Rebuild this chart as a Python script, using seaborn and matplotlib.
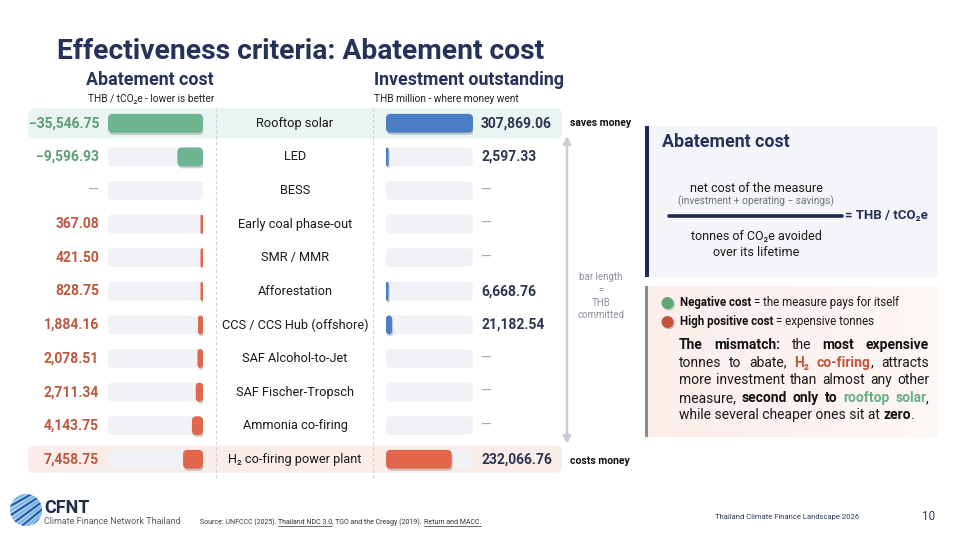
import numpy as np
import pandas as pd
import matplotlib
matplotlib.use("Agg")
import matplotlib.pyplot as plt
import seaborn as sns
from matplotlib.patches import FancyBboxPatch, Circle, Rectangle
from matplotlib.colors import LinearSegmentedColormap
import matplotlib.patheffects as pe

# ---------------- data ----------------
measures = ["Rooftop solar", "LED", "BESS", "Early coal phase-out", "SMR / MMR",
            "Afforestation", "CCS / CCS Hub (offshore)", "SAF Alcohol-to-Jet",
            "SAF Fischer-Tropsch", "Ammonia co-firing", "H\u2082 co-firing power plant"]
abatement_cost = [-35546.75, -9596.93, np.nan, 367.08, 421.50, 828.75, 1884.16,
                  2078.51, 2711.34, 4143.75, 7458.75]          # THB / tCO2e
investment = [307869.06, 2597.33, np.nan, np.nan, np.nan, 6668.76, 21182.54,
              np.nan, np.nan, np.nan, 232066.76]               # THB million
cost_labels = ["\u221235,546.75", "\u22129,596.93", "\u2014", "367.08", "421.50", "828.75",
               "1,884.16", "2,078.51", "2,711.34", "4,143.75", "7,458.75"]
inv_labels = ["307,869.06", "2,597.33", "\u2014", "\u2014", "\u2014", "6,668.76",
              "21,182.54", "\u2014", "\u2014", "\u2014", "232,066.76"]

# ---------------- style ----------------
sns.set_style("white")
plt.rcParams["font.family"] = ["Roboto", "DejaVu Sans"]

NAVY = "#27325a"
VAL_NAVY = "#2c3552"
TRACK = "#f0f2f5"
GREEN_BAR = "#6db591"
RED_BAR = "#e1664b"
BLUE_BAR = "#4b7ec5"
GREEN_TXT = "#5b9e75"
RED_TXT = "#bf563e"
DASH = "#a3a8b0"

W, H = 960, 540
fig = plt.figure(figsize=(9.6, 5.4), dpi=100)


def fax(x0, y0, x1, y1):
    return [x0 / W, 1 - y1 / H, (x1 - x0) / W, (y1 - y0) / H]


bg = fig.add_axes([0, 0, 1, 1], zorder=0)
bg.set_xlim(0, W); bg.set_ylim(H, 0); bg.axis("off")
fg = fig.add_axes([0, 0, 1, 1], zorder=5)
fg.set_xlim(0, W); fg.set_ylim(H, 0); fg.axis("off")

axL = fig.add_axes(fax(108, 106.5, 203, 476.1), zorder=2)
axR = fig.add_axes(fax(386, 106.5, 473, 476.1), zorder=2)

df = pd.DataFrame({"measure": measures, "cost": abatement_cost, "inv": investment})
df["cost_abs"] = df["cost"].abs()
df["cost_track"] = df["cost_abs"].max()
df["inv_track"] = df["inv"].max()

cost_pal = {m: (GREEN_BAR if c < 0 else RED_BAR) for m, c in zip(measures, abatement_cost)}
inv_pal = {m: BLUE_BAR for m in measures}
inv_pal[measures[-1]] = RED_BAR

BW = 0.56


def roundify(ax, start, r_px=4.5, min_px=2.5, shadow=False):
    x0, x1 = ax.get_xlim(); y0, y1 = ax.get_ylim()
    sx = ax.bbox.width / abs(x1 - x0)
    sy = ax.bbox.height / abs(y1 - y0)
    for p in list(ax.patches)[start:]:
        x, y, w, h = p.get_x(), p.get_y(), p.get_width(), p.get_height()
        fc = p.get_facecolor()
        p.remove()
        if not np.isfinite(w) or w == 0:
            continue
        if abs(w) * sx < min_px:
            w = np.sign(w) * min_px / sx
        wpx, hpx = abs(w) * sx, abs(h) * sy
        r = min(r_px, wpx / 2, hpx / 2)
        fb = FancyBboxPatch((min(x, x + w), y), abs(w), h,
                            boxstyle=f"round,pad=0,rounding_size={r / sx}",
                            mutation_aspect=sx / sy, fc=fc, ec="none", zorder=2)
        if shadow:
            fb.set_path_effects([pe.SimplePatchShadow(offset=(0.8, -1.5), shadow_rgbFace="k",
                                                      alpha=0.18), pe.Normal()])
        ax.add_patch(fb)


def setup(ax, xmax, invert):
    ax.set_ylim(len(measures) - 0.5, -0.5)
    if invert:
        ax.set_xlim(xmax, 0)
    else:
        ax.set_xlim(0, xmax)
    ax.axis("off")


# left: abatement cost
sns.barplot(data=df, x="cost_track", y="measure", color=TRACK, saturation=1,
            width=BW, ax=axL, orient="h")
setup(axL, df["cost_abs"].max(), True)
roundify(axL, 0)
n0 = len(axL.patches)
sns.barplot(data=df, x="cost_abs", y="measure", hue="measure", palette=cost_pal,
            saturation=1, width=BW, ax=axL, orient="h", legend=False)
setup(axL, df["cost_abs"].max(), True)
roundify(axL, n0, shadow=True)

# right: investment
sns.barplot(data=df, x="inv_track", y="measure", color=TRACK, saturation=1,
            width=BW, ax=axR, orient="h")
setup(axR, df["inv"].max(), False)
roundify(axR, 0)
n0 = len(axR.patches)
sns.barplot(data=df, x="inv", y="measure", hue="measure", palette=inv_pal,
            saturation=1, width=BW, ax=axR, orient="h", legend=False)
setup(axR, df["inv"].max(), False)
roundify(axR, n0, shadow=True)


def row_y(i):
    return H - axL.transData.transform((0, i))[1]


ys = [row_y(i) for i in range(len(measures))]

# ---------------- backgrounds ----------------
for i, col, hh in [(0, "#e9f4f3", 15), (len(measures) - 1, "#f9ece9", 13.5)]:
    bg.add_patch(FancyBboxPatch((28, ys[i] - hh), 534, 2 * hh,
                                boxstyle="round,pad=0,rounding_size=6",
                                fc=col, ec="none", zorder=1))
for xv in (216, 373):
    bg.plot([xv, xv], [108, 479], color="#cfd3d9", lw=0.8, ls=(0, (3, 2)), zorder=2)

bg.annotate("", xy=(567, 136), xytext=(567, 444),
            arrowprops=dict(arrowstyle="<|-|>", color="#c9cdd5", lw=1.8,
                            mutation_scale=11, shrinkA=0, shrinkB=0), zorder=2)

# right panels
bg.add_patch(Rectangle((645, 126), 293, 151, fc="#f3f5f8", ec="none", zorder=1))
bg.add_patch(Rectangle((645, 126), 4, 151, fc="#1e2a55", ec="none", zorder=2))
pink = LinearSegmentedColormap.from_list("pk", ["#fbeeeb", "#fdf7f6"])
bg.imshow(np.linspace(0, 1, 100)[None, :], cmap=pink, extent=(645, 938, 437, 286),
          aspect="auto", zorder=1)
bg.add_patch(Rectangle((645, 286), 3, 151, fc="#8c8c8c", ec="none", zorder=2))
bg.set_xlim(0, W); bg.set_ylim(H, 0)

# ---------------- text ----------------
fg.text(57, 59, "Effectiveness criteria: Abatement cost", fontsize=20.3,
        fontweight="bold", color=NAVY, va="baseline")

fg.text(214, 80, "Abatement cost", fontsize=12.8, fontweight="bold", color=NAVY,
        ha="right", va="center")
fg.text(214, 98.5, "THB / tCO\u2082e - lower is better", fontsize=7.3, color="#222",
        ha="right", va="center")
fg.text(374, 80, "Investment outstanding", fontsize=12.8, fontweight="bold", color=NAVY,
        ha="left", va="center")
fg.text(374, 98.5, "THB million - where money went", fontsize=7.3, color="#222",
        ha="left", va="center")

for i, m in enumerate(measures):
    y = ys[i]
    c = abatement_cost[i]
    col = DASH if np.isnan(c) else (GREEN_TXT if c < 0 else RED_TXT)
    fg.text(99, y, cost_labels[i], fontsize=10, fontweight="bold" if not np.isnan(c) else "normal",
            color=col, ha="right", va="center")
    fg.text(295, y, m, fontsize=9.2, color="#1a1a1a", ha="center", va="center")
    v = investment[i]
    fg.text(481, y, inv_labels[i], fontsize=10,
            fontweight="bold" if not np.isnan(v) else "normal",
            color=DASH if np.isnan(v) else VAL_NAVY, ha="left", va="center")

fg.text(570, ys[0], "saves money", fontsize=7.5, fontweight="bold", color="#111",
        ha="left", va="center")
fg.text(570, ys[-1] + 1.5, "costs money", fontsize=7.5, fontweight="bold", color="#111",
        ha="left", va="center")
for t, yy in [("bar length", 277), ("=", 290), ("THB", 302.5), ("committed", 315)]:
    fg.text(601, yy, t, fontsize=7, color="#8c9099", ha="center", va="center")

# panel 1
fg.text(662, 142, "Abatement cost", fontsize=12.8, fontweight="bold", color=NAVY,
        va="center")
fg.text(756, 188, "net cost of the measure", fontsize=9, color="#1a1a1a",
        ha="center", va="center")
fg.text(756, 201.5, "(investment + operating \u2212 savings)", fontsize=7.3, color="#6f737a",
        ha="center", va="center")
fg.plot([669, 842], [215.5, 215.5], color="#1e2a55", lw=2.6, solid_capstyle="round")
fg.text(845, 215.5, "= THB / tCO\u2082e", fontsize=9.5, fontweight="bold", color=NAVY,
        ha="left", va="center")
fg.text(756, 237, "tonnes of CO\u2082e avoided", fontsize=9, color="#1a1a1a",
        ha="center", va="center")
fg.text(756, 253, "over its lifetime", fontsize=9, color="#1a1a1a",
        ha="center", va="center")

# rich text helper
renderer = fig.canvas.get_renderer()


def _w(s, fs, **st):
    t = fg.text(0, 0, s, fontsize=fs, **st)
    w = t.get_window_extent(renderer).width
    t.remove()
    return w


def metrics(s, fs, **st):
    """advance width and left side bearing of s (matplotlib draws ink at x)."""
    bar = _w("|", fs, **st)
    adv = _w("|" + s + "|", fs, **st) - _w("||", fs, **st)
    ink = _w(s, fs, **st)
    diff = (_w("|" + s, fs, **st) - bar) - (_w(s + "|", fs, **st) - bar)
    lsb = ((adv - ink) + diff) / 2.0
    return adv, lsb


def parse(runs):
    words = [[]]
    for text, st in runs:
        toks = text.split(" ")
        for j, tok in enumerate(toks):
            if j > 0:
                words.append([])
            if tok:
                words[-1].append((tok, st))
    return [w for w in words if w]


def clean(st):
    return {k: v for k, v in st.items() if k != "underline"}


def rich_justified(x, y, runs, fs, x_right):
    words = parse(runs)
    mets = [[metrics(t, fs, **clean(st)) for t, st in w] for w in words]
    tot = sum(sum(m[0] for m in ms) for ms in mets)
    gap = (x_right - x - tot) / (len(words) - 1)
    cx = x
    for w, ms in zip(words, mets):
        for (t, st), (adv, lsb) in zip(w, ms):
            fg.text(cx + lsb, y, t, fontsize=fs, va="baseline", ha="left", **clean(st))
            cx += adv
        cx += gap


def rich_runs(x, y, runs, fs):
    """left-aligned: each run drawn whole so the font engine spaces it."""
    space = _w("| |", fs) - _w("||", fs)
    cx = x
    for text, st in runs:
        lead = len(text) - len(text.lstrip(" "))
        trail = len(text) - len(text.rstrip(" "))
        core = text.strip(" ")
        cx += lead * space
        adv, lsb = metrics(core, fs, **clean(st))
        fg.text(cx + lsb, y, core, fontsize=fs, va="baseline", ha="left", **clean(st))
        if st.get("underline"):
            fg.plot([cx, cx + adv], [y + 1.3, y + 1.3], color=st.get("color", "k"), lw=0.5)
        cx += adv + trail * space


BK = dict(color="#1a1a1a")
BB = dict(color="#111111", fontweight="bold")
RB = dict(color="#c0553c", fontweight="bold")
GB = dict(color="#6aae85", fontweight="bold")

fg.add_patch(Circle((667.5, 303), 6, fc="#5fa673", ec="none",
                    path_effects=[pe.SimplePatchShadow(offset=(1, -1), alpha=0.25), pe.Normal()]))
fg.add_patch(Circle((667.5, 322), 6, fc="#c0553c", ec="none",
                    path_effects=[pe.SimplePatchShadow(offset=(1, -1), alpha=0.25), pe.Normal()]))
rich_runs(680, 306, [("Negative cost ", BB), ("= the measure pays for itself", BK)], 8.3)
rich_runs(680, 325, [("High positive cost ", BB), ("= expensive tonnes", BK)], 8.3)

para = [
    [("The mismatch:", BB), (" the ", BK), ("most expensive", BB)],
    [("tonnes to abate, ", BK), ("H\u2082 co-firing", RB), (", attracts", BK)],
    [("more investment than almost any other", BK)],
    [("measure, ", BK), ("second only to ", BB), ("rooftop solar", GB), (",", BK)],
    [("while several cheaper ones sit at ", BK), ("zero", BB), (".", BK)],
]
for k, runs in enumerate(para):
    yb = 349 + k * 17.6
    if k == len(para) - 1:
        rich_runs(679, yb, runs, 10)
    else:
        rich_justified(679, yb, runs, 10, 929)

# ---------------- footer ----------------
logo = Circle((26, 510), 16, fc="#b9d8f2", ec="none", zorder=3)
fg.add_patch(logo)
for k, off in enumerate(np.arange(-30, 30, 4.2)):
    col = "#1f5ea6" if k % 2 == 0 else "#7fb4e3"
    ln, = fg.plot([26 - 20 + off * 0.3, 26 + 20 + off * 0.3],
                  [510 + 14 + off, 510 - 14 + off * 0.6], color=col, lw=1.6, zorder=4)
    ln.set_clip_path(logo)
fg.text(44, 513, "CFNT", fontsize=13, fontweight="bold", color="#1f2b48", va="baseline")
fg.text(44, 524, "Climate Finance Network Thailand", fontsize=6.5, color="#5a5f66",
        va="baseline")
SRC = dict(color="#333333")
SRCU = dict(color="#333333", underline=True)
rich_runs(200, 524.5, [("Source: UNFCCC (2025). ", SRC), ("Thailand NDC 3.0", SRCU),
                       (", TGO and the Creagy (2019). ", SRC), ("Return and MACC.", SRCU)], 5)
fg.text(715, 519, "Thailand Climate Finance Landscape 2026", fontsize=5.5, color="#2b3a5a",
        va="baseline")
fg.text(922, 520, "10", fontsize=8.5, color="#2b3a5a", va="baseline")

fig.savefig("out.png", dpi=100)
